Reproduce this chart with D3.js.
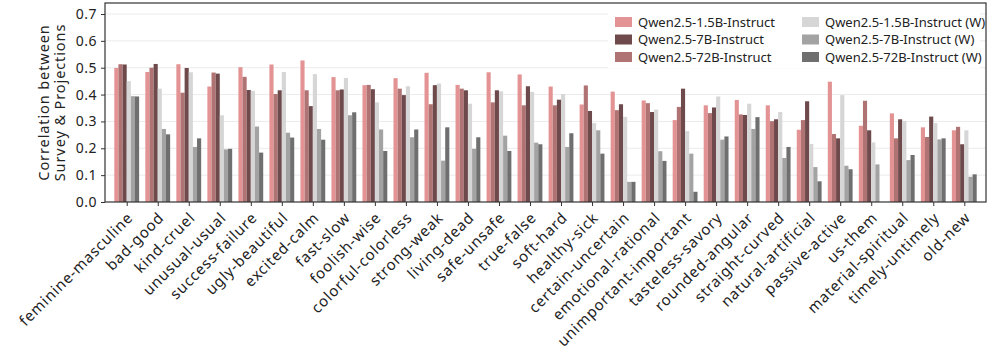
<!DOCTYPE html>
<html>
<head>
<meta charset="utf-8">
<script src="https://cdn.jsdelivr.net/npm/d3@7"></script>
<style>
  body { margin: 0; background: #fff; }
  text { font-family: "Noto Sans", "DejaVu Sans", sans-serif; fill: #222; }
</style>
</head>
<body>
<div id="chart"></div>
<script>
const categories = ["feminine-masculine", "bad-good", "kind-cruel", "unusual-usual", "success-failure",
  "ugly-beautiful", "excited-calm", "fast-slow", "foolish-wise", "colorful-colorless", "strong-weak",
  "living-dead", "safe-unsafe", "true-false", "soft-hard", "healthy-sick", "certain-uncertain",
  "emotional-rational", "unimportant-important", "tasteless-savory", "rounded-angular", "straight-curved",
  "natural-artificial", "passive-active", "us-them", "material-spiritual", "timely-untimely", "old-new"];

const q15 = [0.499, 0.484, 0.513, 0.430, 0.502, 0.512, 0.527, 0.465, 0.435, 0.461, 0.481, 0.436, 0.483, 0.475,
  0.430, 0.363, 0.411, 0.378, 0.305, 0.360, 0.380, 0.360, 0.269, 0.448, 0.284, 0.330, 0.278, 0.267];
const q72 = [0.513, 0.500, 0.407, 0.482, 0.466, 0.402, 0.416, 0.416, 0.436, 0.422, 0.364, 0.422, 0.371, 0.360,
  0.360, 0.434, 0.342, 0.368, 0.354, 0.331, 0.326, 0.301, 0.305, 0.253, 0.377, 0.237, 0.242, 0.280];
const q7 = [0.512, 0.514, 0.499, 0.478, 0.417, 0.416, 0.357, 0.419, 0.420, 0.398, 0.435, 0.416, 0.416, 0.431,
  0.381, 0.339, 0.364, 0.335, 0.422, 0.352, 0.324, 0.308, 0.375, 0.237, 0.267, 0.308, 0.318, 0.215];
const w15 = [0.450, 0.422, 0.483, 0.323, 0.414, 0.484, 0.476, 0.462, 0.371, 0.431, 0.441, 0.366, 0.412, 0.410,
  0.402, 0.294, 0.317, 0.344, 0.264, 0.393, 0.366, 0.335, 0.216, 0.398, 0.222, 0.302, 0.294, 0.267];
const w7 = [0.394, 0.272, 0.205, 0.196, 0.281, 0.258, 0.272, 0.323, 0.270, 0.241, 0.154, 0.198, 0.247, 0.221,
  0.205, 0.267, 0.075, 0.189, 0.180, 0.232, 0.272, 0.164, 0.130, 0.135, 0.140, 0.156, 0.233, 0.094];
const w72 = [0.393, 0.252, 0.237, 0.198, 0.184, 0.240, 0.232, 0.334, 0.190, 0.270, 0.278, 0.241, 0.190, 0.215,
  0.256, 0.180, 0.075, 0.153, 0.038, 0.244, 0.316, 0.205, 0.077, 0.122, 0, 0.175, 0.237, 0.103];

const yTicks = [0.0, 0.1, 0.2, 0.3, 0.4, 0.5, 0.6, 0.7];

// bars are drawn in this order inside each group
const series = [
  { name: "Qwen2.5-1.5B-Instruct", values: q15, color: "#e39393" },
  { name: "Qwen2.5-72B-Instruct", values: q72, color: "#b07373" },
  { name: "Qwen2.5-7B-Instruct", values: q7, color: "#6f4a4c" },
  { name: "Qwen2.5-1.5B-Instruct (W)", values: w15, color: "#d6d6d6" },
  { name: "Qwen2.5-7B-Instruct (W)", values: w7, color: "#a3a3a3" },
  { name: "Qwen2.5-72B-Instruct (W)", values: w72, color: "#6f6f6f" }
];
const legendOrder = [
  "Qwen2.5-1.5B-Instruct", "Qwen2.5-7B-Instruct", "Qwen2.5-72B-Instruct",
  "Qwen2.5-1.5B-Instruct (W)", "Qwen2.5-7B-Instruct (W)", "Qwen2.5-72B-Instruct (W)"
];

const W = 996, H = 362;
const mLeft = 105, mRight = 986, mTop = 3, mBottom = 202;

const svg = d3.select("#chart").append("svg")
  .attr("width", W).attr("height", H);

const x = d3.scaleLinear().domain([-0.7, categories.length - 0.3]).range([mLeft, mRight]);
const y = d3.scaleLinear().domain([0, 0.7 * (mBottom - mTop) / (mBottom - 14)]).range([mBottom, mTop]);
const barW = 0.8 / series.length;

// grid
svg.append("g").selectAll("line").data(yTicks.slice(1)).enter().append("line")
  .attr("x1", mLeft).attr("x2", mRight)
  .attr("y1", d => y(d)).attr("y2", d => y(d))
  .attr("stroke", "#ebebeb").attr("stroke-width", 1);

// bars
series.forEach((s, i) => {
  svg.append("g").selectAll("rect").data(s.values).enter().append("rect")
    .attr("x", (d, j) => x(j + (i - series.length / 2) * barW))
    .attr("width", x(barW) - x(0))
    .attr("y", d => y(d))
    .attr("height", d => y(0) - y(d))
    .attr("fill", s.color);
});

// axes
const yAxis = svg.append("g")
  .attr("transform", "translate(" + mLeft + ",0)")
  .call(d3.axisLeft(y).tickValues(yTicks).tickFormat(d3.format(".1f")).tickSize(4).tickPadding(4));
yAxis.select(".domain").remove();
yAxis.selectAll("text").style("font-size", "14px").style("letter-spacing", "0.5px");
yAxis.selectAll("line").attr("stroke", "#333");

const xAxis = svg.append("g")
  .attr("transform", "translate(0," + mBottom + ")")
  .call(d3.axisBottom(x).tickValues(d3.range(categories.length)).tickFormat(i => categories[i]).tickSize(4));
xAxis.select(".domain").remove();
xAxis.selectAll("line").attr("stroke", "#333");
xAxis.selectAll("text")
  .style("font-size", "15px")
  .style("letter-spacing", "0.8px")
  .attr("text-anchor", "end")
  .attr("dy", "0.35em")
  .attr("transform", "translate(3,13) rotate(-45)")
  .attr("x", 0).attr("y", 0);

// frame
svg.append("rect")
  .attr("x", mLeft).attr("y", mTop)
  .attr("width", mRight - mLeft).attr("height", mBottom - mTop)
  .attr("fill", "none").attr("stroke", "#333").attr("stroke-width", 1.2);

// y label
svg.append("text")
  .attr("transform", "translate(49," + (mTop + mBottom) / 2 + ") rotate(-90)")
  .attr("text-anchor", "middle")
  .style("font-size", "14.5px").style("letter-spacing", "0.9px")
  .text("Correlation between");
svg.append("text")
  .attr("transform", "translate(65," + (mTop + mBottom) / 2 + ") rotate(-90)")
  .attr("text-anchor", "middle")
  .style("font-size", "14.5px").style("letter-spacing", "0.9px")
  .text("Survey & Projections");

// legend
const lg = svg.append("g");
lg.append("rect").attr("x", 608).attr("y", 8).attr("width", 372).attr("height", 60)
  .attr("fill", "#fff").attr("stroke", "none");
legendOrder.forEach((name, k) => {
  const s = series.find(d => d.name === name);
  const col = Math.floor(k / 3), row = k % 3;
  const lx = 615 + col * 187, ly = 22 + row * 17.5;
  lg.append("rect").attr("x", lx).attr("y", ly - 5).attr("width", 17).attr("height", 10).attr("fill", s.color);
  lg.append("text").attr("x", lx + 23).attr("y", ly).attr("dy", "0.35em")
    .style("font-size", "13px").text(name);
});
</script>
</body>
</html>
